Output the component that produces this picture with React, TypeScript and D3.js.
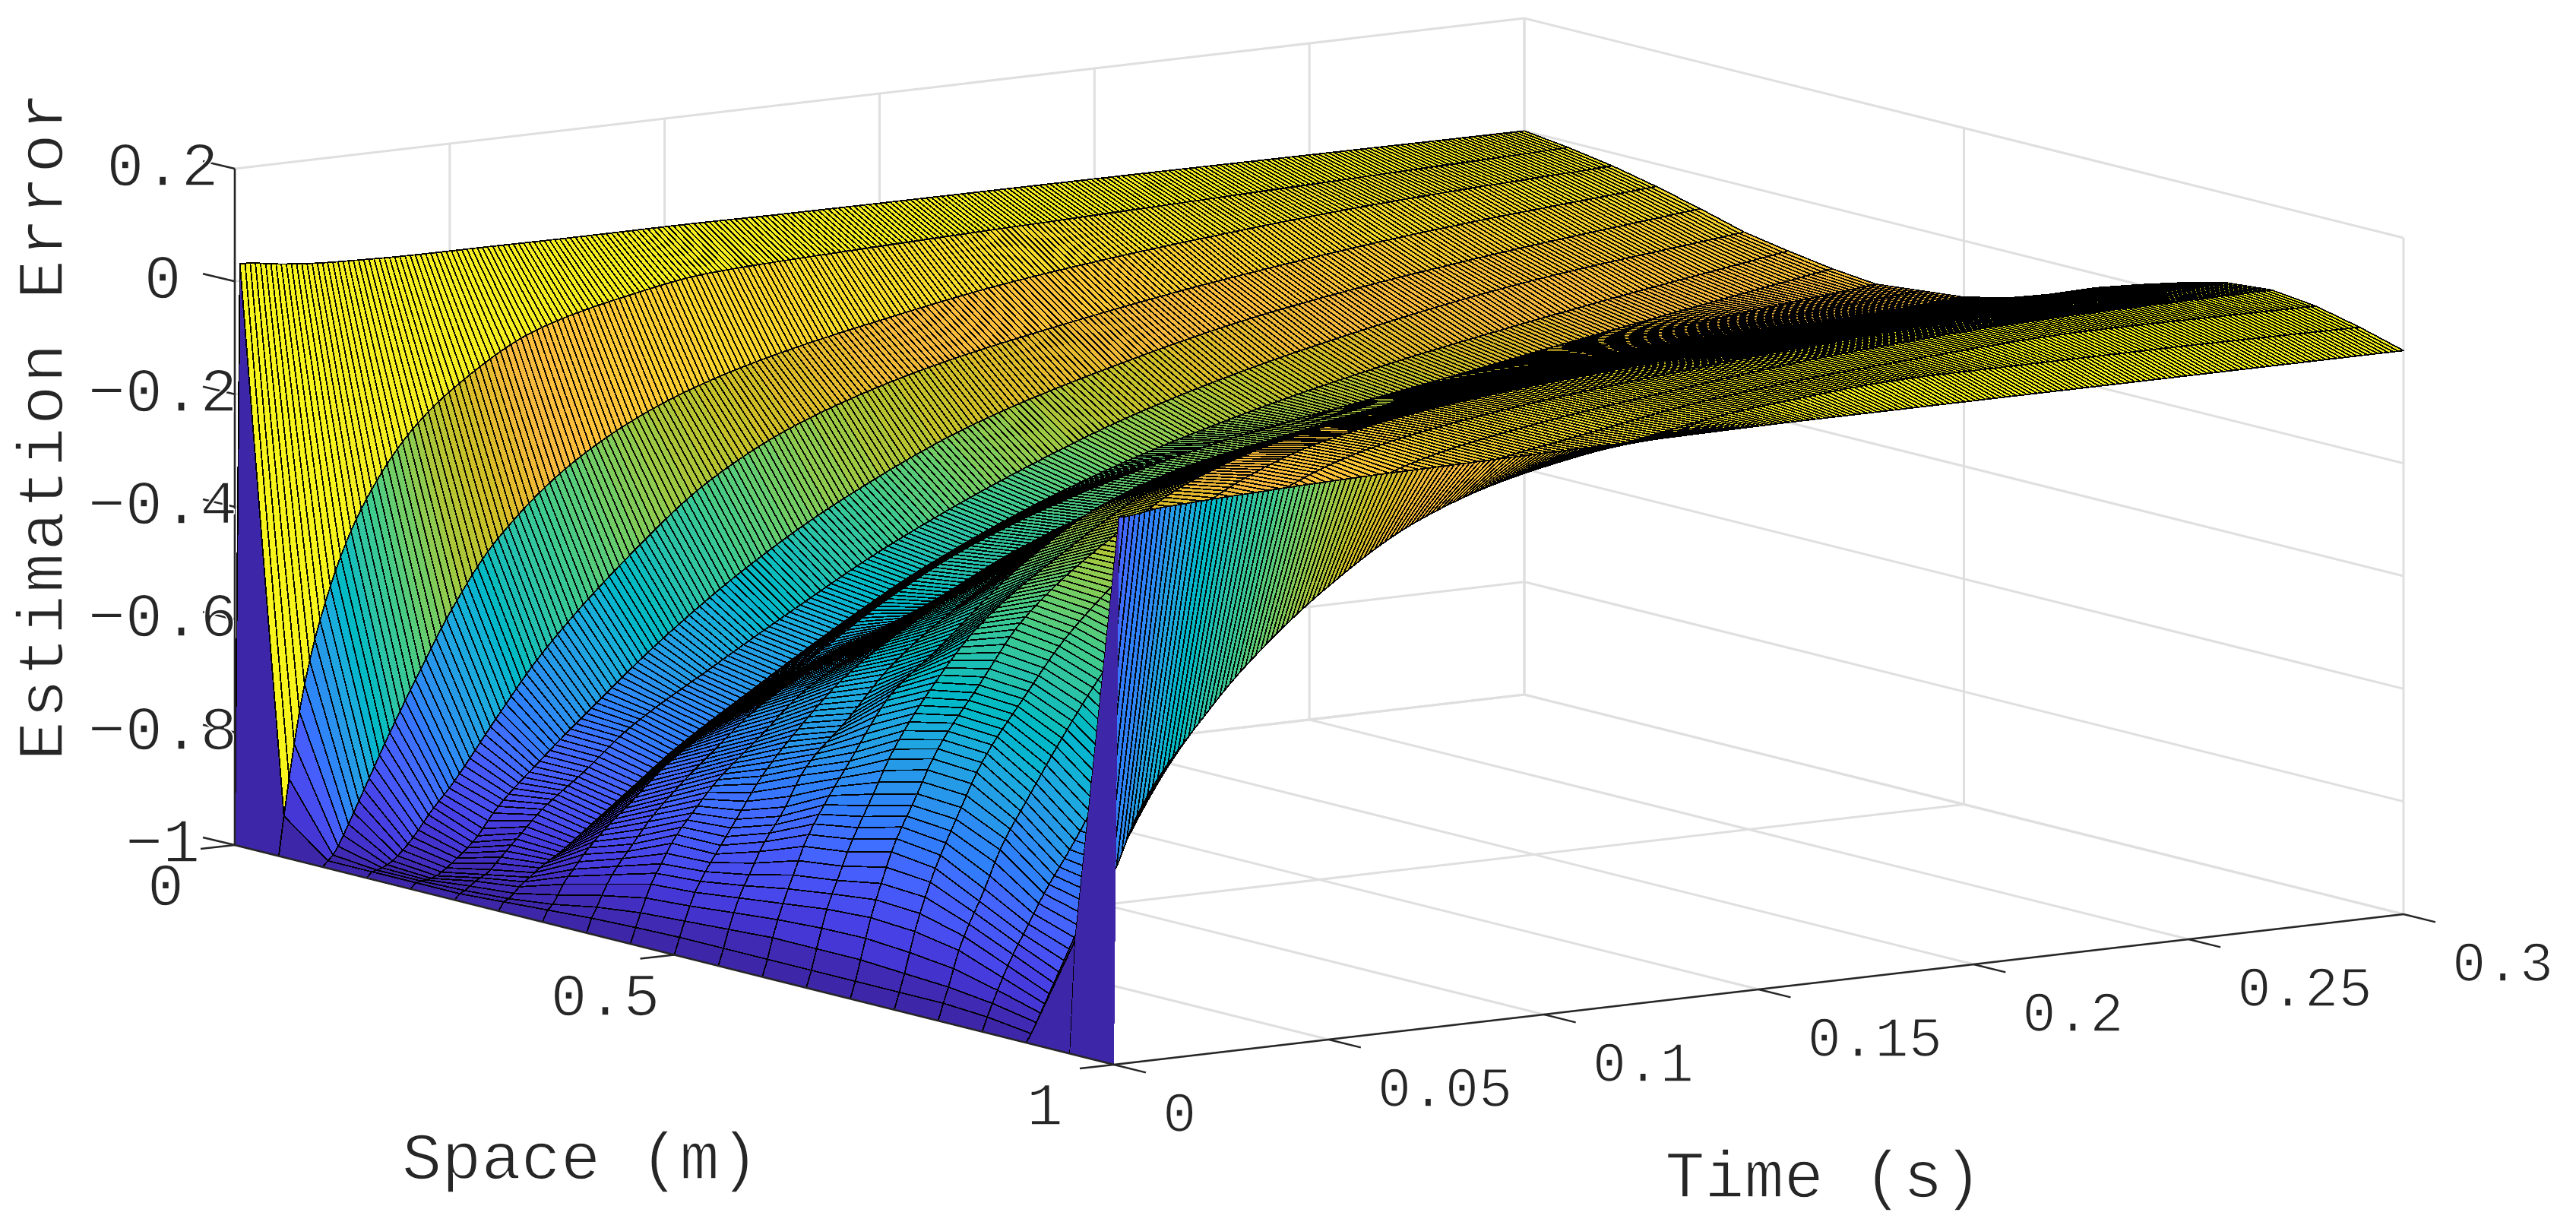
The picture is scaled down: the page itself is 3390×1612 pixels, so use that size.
import { useEffect, useRef } from "react"
import * as d3 from "d3"

// surface: one list per space node, values at timeKnots
const timeKnots = [0, 0.0012, 0.0025, 0.005, 0.0075, 0.01, 0.015, 0.02, 0.03, 0.04, 0.06, 0.08, 0.1, 0.13, 0.16, 0.2, 0.25, 0.3]
const z000 = [-1, 0.03, 0.03, 0.028, 0.025, 0.022, 0.018, 0.015, 0.012, 0.01, 0.009, 0.008, 0.008, 0.006, 0.005, 0.004, 0.002, 0]
const z005 = [-1, -0.93, -0.86, -0.74, -0.65, -0.58, -0.47, -0.39, -0.28, -0.21, -0.12, -0.08, -0.055, -0.045, -0.038, -0.03, -0.02, -0.01]
const z010 = [-1, -0.99, -0.98, -0.945, -0.905, -0.865, -0.785, -0.71, -0.57, -0.46, -0.325, -0.245, -0.195, -0.145, -0.105, -0.07, -0.04, -0.023]
const z015 = [-1, -0.99, -0.988, -0.98, -0.965, -0.945, -0.895, -0.85, -0.745, -0.645, -0.49, -0.365, -0.285, -0.212, -0.165, -0.115, -0.07, -0.04]
const z020 = [-1, -0.99, -0.988, -0.985, -0.975, -0.96, -0.925, -0.875, -0.8, -0.73, -0.6, -0.49, -0.4, -0.295, -0.225, -0.155, -0.1, -0.06]
const z025 = [-1, -0.99, -0.985, -0.97, -0.96, -0.94, -0.9, -0.86, -0.8, -0.735, -0.64, -0.55, -0.465, -0.36, -0.275, -0.195, -0.125, -0.082]
const z030 = [-1, -0.985, -0.98, -0.96, -0.945, -0.93, -0.905, -0.875, -0.815, -0.755, -0.655, -0.56, -0.475, -0.375, -0.3, -0.225, -0.155, -0.096]
const z035 = [-1, -0.98, -0.97, -0.935, -0.91, -0.885, -0.845, -0.81, -0.74, -0.69, -0.6, -0.5, -0.42, -0.34, -0.285, -0.235, -0.17, -0.108]
const z040 = [-1, -0.975, -0.955, -0.915, -0.885, -0.86, -0.81, -0.77, -0.7, -0.635, -0.55, -0.485, -0.41, -0.33, -0.275, -0.215, -0.155, -0.116]
const z045 = [-1, -0.972, -0.945, -0.895, -0.86, -0.825, -0.775, -0.73, -0.66, -0.59, -0.5, -0.42, -0.35, -0.28, -0.235, -0.19, -0.14, -0.108]
const z050 = [-1, -0.97, -0.94, -0.89, -0.855, -0.825, -0.765, -0.705, -0.615, -0.54, -0.44, -0.36, -0.3, -0.245, -0.205, -0.165, -0.125, -0.1]
const z055 = [-1, -0.97, -0.935, -0.88, -0.84, -0.8, -0.74, -0.67, -0.59, -0.505, -0.39, -0.3, -0.245, -0.2, -0.165, -0.135, -0.1, -0.082]
const z060 = [-1, -0.97, -0.93, -0.87, -0.82, -0.77, -0.7, -0.64, -0.525, -0.46, -0.325, -0.23, -0.18, -0.14, -0.115, -0.095, -0.07, -0.056]
const z065 = [-1, -0.97, -0.93, -0.86, -0.81, -0.76, -0.68, -0.6, -0.485, -0.395, -0.28, -0.19, -0.14, -0.095, -0.07, -0.05, -0.035, -0.025]
const z070 = [-1, -0.97, -0.93, -0.855, -0.795, -0.74, -0.66, -0.58, -0.47, -0.365, -0.24, -0.15, -0.1, -0.06, -0.04, -0.025, -0.01, 0]
const z075 = [-1, -0.97, -0.935, -0.86, -0.8, -0.75, -0.665, -0.585, -0.475, -0.375, -0.235, -0.135, -0.08, -0.04, -0.018, 0, 0.012, 0.023]
const z080 = [-1, -0.97, -0.94, -0.875, -0.83, -0.79, -0.7, -0.635, -0.51, -0.4, -0.24, -0.13, -0.075, -0.035, -0.01, 0.015, 0.035, 0.042]
const z085 = [-1, -0.975, -0.95, -0.905, -0.865, -0.83, -0.76, -0.7, -0.57, -0.45, -0.27, -0.15, -0.08, -0.035, -0.006, 0.025, 0.045, 0.049]
const z090 = [-1, -0.985, -0.965, -0.935, -0.9, -0.86, -0.78, -0.71, -0.56, -0.45, -0.29, -0.16, -0.08, -0.036, 0, 0.026, 0.043, 0.04]
const z095 = [-1, -0.8, -0.77, -0.74, -0.715, -0.69, -0.6, -0.535, -0.44, -0.355, -0.225, -0.13, -0.075, -0.03, 0.005, 0.025, 0.025, 0.022]
const z100 = [-1, -0.03, -0.03, -0.028, -0.025, -0.022, -0.02, -0.018, -0.015, -0.012, -0.008, -0.006, -0.004, -0.002, 0, 0, 0, 0]
const surface = [z000, z005, z010, z015, z020, z025, z030, z035, z040, z045, z050, z055, z060, z065, z070, z075, z080, z085, z090, z095, z100]

const zTicks = [-1, -0.8, -0.6, -0.4, -0.2, 0, 0.2]
const zLabels = ["\u22121", "\u22120.8", "\u22120.6", "\u22120.4", "\u22120.2", "0", "0.2"]
const spaceTicks = [0, 0.5, 1]
const spaceLabels = ["0", "0.5", "1"]
const timeTicks = [0, 0.05, 0.1, 0.15, 0.2, 0.25, 0.3]
const timeLabels = ["0", "0.05", "0.1", "0.15", "0.2", "0.25", "0.3"]

// MATLAB parula, 64 steps
const parula = [
  [0.2422, 0.1504, 0.6603], [0.2504, 0.165, 0.7076], [0.2578, 0.1818, 0.7511], [0.2647, 0.1978, 0.7952],
  [0.2706, 0.2147, 0.8364], [0.2751, 0.2342, 0.871], [0.2783, 0.2559, 0.8991], [0.2803, 0.2782, 0.9221],
  [0.2813, 0.3006, 0.9414], [0.281, 0.3228, 0.9579], [0.2795, 0.3447, 0.9717], [0.276, 0.3667, 0.9829],
  [0.2699, 0.3892, 0.9906], [0.2602, 0.4123, 0.9952], [0.244, 0.4358, 0.9988], [0.2206, 0.4603, 0.9973],
  [0.1963, 0.4847, 0.9892], [0.1834, 0.5074, 0.9798], [0.1786, 0.5289, 0.9682], [0.1764, 0.5499, 0.952],
  [0.1687, 0.5703, 0.9359], [0.154, 0.5902, 0.9218], [0.146, 0.6091, 0.9079], [0.138, 0.6276, 0.8973],
  [0.1248, 0.6459, 0.8883], [0.1113, 0.6635, 0.8763], [0.0952, 0.6798, 0.8598], [0.0689, 0.6948, 0.8394],
  [0.0297, 0.7082, 0.8163], [0.0036, 0.7203, 0.7917], [0.0067, 0.7312, 0.766], [0.0433, 0.7411, 0.7394],
  [0.0964, 0.75, 0.712], [0.1408, 0.7584, 0.6842], [0.1717, 0.767, 0.6554], [0.1938, 0.7758, 0.6251],
  [0.2161, 0.7843, 0.5923], [0.247, 0.7918, 0.5567], [0.2906, 0.7973, 0.5188], [0.3406, 0.8008, 0.4789],
  [0.3909, 0.8029, 0.4354], [0.4456, 0.8024, 0.3909], [0.5044, 0.7993, 0.348], [0.5616, 0.7942, 0.3045],
  [0.6174, 0.7876, 0.2612], [0.672, 0.7793, 0.2227], [0.7242, 0.7698, 0.191], [0.7738, 0.7598, 0.1646],
  [0.8203, 0.7498, 0.1535], [0.8634, 0.7406, 0.1596], [0.9035, 0.733, 0.1774], [0.9393, 0.7288, 0.21],
  [0.9728, 0.7298, 0.2394], [0.9956, 0.7434, 0.2371], [0.997, 0.7659, 0.2199], [0.9952, 0.7893, 0.2028],
  [0.9892, 0.8136, 0.1885], [0.9786, 0.8386, 0.1766], [0.9676, 0.8639, 0.1643], [0.961, 0.889, 0.1537],
  [0.9597, 0.9135, 0.1423], [0.9628, 0.9373, 0.1265], [0.9691, 0.9606, 0.1064], [0.9769, 0.9839, 0.0805],
].map(([r, g, b]) => d3.rgb(r * 255, g * 255, b * 255).formatHex())

const WIDTH = 3390
const HEIGHT = 1612
const FONT = "'Liberation Mono', monospace"
const TEXT = "#262626"

// the box is an oblique parallel projection, so three scales and an origin are enough
const spaceX = d3.scaleLinear().domain([0, 1]).range([0, 1157])
const spaceY = d3.scaleLinear().domain([0, 1]).range([0, 289])
const timeX = d3.scaleLinear().domain([0, 0.3]).range([0, 1697])
const timeY = d3.scaleLinear().domain([0, 0.3]).range([0, -198])
const zY = d3.scaleLinear().domain([-1, 0.2]).range([0, -890])
const color = d3.scaleQuantize<string>().domain([-1, 0.05]).range(parula)

const project = (s: number, t: number, z: number): [number, number] => [
  309 + spaceX(s) + timeX(t),
  1112 + spaceY(s) + timeY(t) + zY(z),
]

// monotone cubic through the read rows. It only places the fine hatching of the
// mesh (250 rows, as counted in the picture) between the rows of the table.
const rowsOf = (zs: number[], times: number[]) => {
  const n = timeKnots.length
  const h = d3.pairs(timeKnots).map(([a, b]) => b - a)
  const m = d3.pairs(zs).map(([a, b], i) => (b - a) / h[i])
  const slope = timeKnots.map((_, i) => {
    if (i === 0) return m[0]
    if (i === n - 1) return m[n - 2]
    if (m[i - 1] * m[i] <= 0) return 0
    const w1 = 2 * h[i] + h[i - 1]
    const w2 = h[i] + 2 * h[i - 1]
    return (w1 + w2) / (w1 / m[i - 1] + w2 / m[i])
  })
  return times.map((t) => {
    const i = Math.min(d3.bisectRight(timeKnots, t) - 1, n - 2)
    const u = (t - timeKnots[i]) / h[i]
    return (
      (2 * u ** 3 - 3 * u ** 2 + 1) * zs[i] +
      (u ** 3 - 2 * u ** 2 + u) * h[i] * slope[i] +
      (-2 * u ** 3 + 3 * u ** 2) * zs[i + 1] +
      (u ** 3 - u ** 2) * h[i] * slope[i + 1]
    )
  })
}

const App = () => {
  const ref = useRef<SVGSVGElement>(null)

  useEffect(() => {
    const svg = d3.select(ref.current)
    svg.selectAll("*").remove()

    const line = d3.line()
    const seg = (a: [number, number], b: [number, number]) => line([a, b]) as string

    // back walls and floor
    const grid: string[] = []
    zTicks.forEach((z) => {
      grid.push(seg(project(0, 0, z), project(0, 0.3, z)))
      grid.push(seg(project(0, 0.3, z), project(1, 0.3, z)))
    })
    timeTicks.forEach((t) => {
      grid.push(seg(project(0, t, -1), project(1, t, -1)))
      grid.push(seg(project(0, t, -1), project(0, t, 0.2)))
    })
    spaceTicks.forEach((s) => {
      grid.push(seg(project(s, 0, -1), project(s, 0.3, -1)))
      grid.push(seg(project(s, 0.3, -1), project(s, 0.3, 0.2)))
    })
    svg
      .append("g")
      .selectAll("path")
      .data(grid)
      .join("path")
      .attr("d", (d) => d)
      .attr("fill", "none")
      .attr("stroke", "#dfdfdf")
      .attr("stroke-width", 3)

    // surface, far cells first
    const times = d3.range(0, 251).map((k) => k * 0.0012)
    const rows = surface.map((zs) => rowsOf(zs, times))
    const spaces = surface.map((_, i) => i / 20)
    const cells: { d: string; fill: string; wall: boolean }[] = []
    for (let k = times.length - 2; k >= 0; k--) {
      for (let i = 0; i < spaces.length - 1; i++) {
        const corners = [
          project(spaces[i], times[k], rows[i][k]),
          project(spaces[i + 1], times[k], rows[i + 1][k]),
          project(spaces[i + 1], times[k + 1], rows[i + 1][k + 1]),
          project(spaces[i], times[k + 1], rows[i][k + 1]),
        ]
        cells.push({
          d: line(corners) + "Z",
          fill: color(rows[i][k]),
          wall: k === 0 && i === spaces.length - 2,
        })
      }
    }
    svg
      .append("g")
      .attr("stroke-width", 1.8)
      .attr("stroke-linejoin", "round")
      .attr("shape-rendering", "crispEdges")
      .selectAll("path")
      .data(cells)
      .join("path")
      .attr("d", (d) => d.d)
      .attr("fill", (d) => d.fill)
      .attr("stroke", (d) => (d.wall ? "none" : "#000"))

    // axes with outward ticks
    const axes = svg.append("g").attr("stroke", TEXT).attr("stroke-width", 2.5).attr("fill", "none")
    const addLine = (a: [number, number], b: [number, number]) => axes.append("path").attr("d", seg(a, b))
    addLine(project(0, 0, -1), project(0, 0, 0.2))
    addLine(project(0, 0, -1), project(1, 0, -1))
    addLine(project(1, 0, -1), project(1, 0.3, -1))
    // the white outline thins the glyphs towards the light type of the picture
    const labels = svg
      .append("g")
      .attr("fill", TEXT)
      .attr("stroke", "#fff")
      .attr("stroke-width", 1.6)
      .attr("font-family", FONT)
    const addLabel = (txt: string, x: number, y: number, size: number, anchor: string) =>
      labels
        .append("text")
        .attr("x", x)
        .attr("y", y)
        .attr("font-size", size)
        .attr("text-anchor", anchor)
        .text(txt)

    zTicks.forEach((z, i) => {
      const a = project(0, 0, z)
      const b: [number, number] = [a[0] - 42, a[1] - 10]
      addLine(a, b)
      addLabel(zLabels[i], b[0] - 53, b[1] + 32, 82, "middle")
    })
    spaceTicks.forEach((s, i) => {
      const a = project(s, 0, -1)
      const b: [number, number] = [a[0] - 45, a[1] + 5]
      addLine(a, b)
      addLabel(spaceLabels[i], b[0] - 46, b[1] + 74, 80, "middle")
    })
    timeTicks.forEach((t, i) => {
      const a = project(1, t, -1)
      const b: [number, number] = [a[0] + 42, a[1] + 10.4]
      addLine(a, b)
      addLabel(timeLabels[i], b[0] + 22, b[1] + 78, 74, "start")
    })

    addLabel("Space (m)", 764, 1551, 87, "middle")
    addLabel("Time (s)", 2400, 1575, 87, "middle")
    labels
      .append("text")
      .attr("transform", "translate(82,559) rotate(-90)")
      .attr("font-size", 86)
      .attr("letter-spacing", 3.6)
      .attr("text-anchor", "middle")
      .text("Estimation Error")
  }, [])

  return (
    <svg
      ref={ref}
      width={WIDTH}
      height={HEIGHT}
      viewBox={`0 0 ${WIDTH} ${HEIGHT}`}
      style={{ position: "absolute", left: 0, top: 0, background: "#fff" }}
    />
  )
}

export default App
